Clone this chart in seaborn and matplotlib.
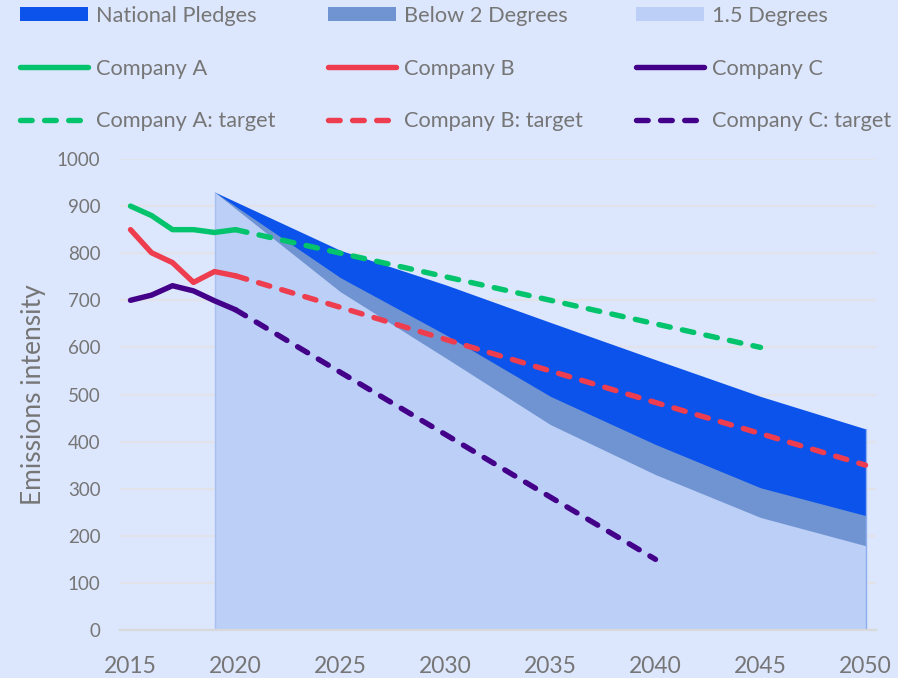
import matplotlib
matplotlib.use("Agg")
import matplotlib.pyplot as plt
from matplotlib.patches import Patch
from matplotlib.lines import Line2D
import seaborn as sns
import pandas as pd

# ---- data -------------------------------------------------------------
hist_years = [2015, 2016, 2017, 2018, 2019, 2020]
company_a = [900, 880, 850, 850, 844, 850]
company_b = [850, 801, 780, 738, 761, 752]
company_c = [700, 711, 731, 720, 699, 680]

target_years_a = [2020, 2025, 2030, 2035, 2040, 2045]
target_a = [850, 800, 750, 700, 650, 600]
target_years_b = [2020, 2025, 2030, 2035, 2040, 2045, 2050]
target_b = [752, 685, 617, 550, 483, 417, 350]
target_years_c = [2020, 2025, 2030, 2035, 2040]
target_c = [680, 547, 415, 282, 150]

scenario_years = [2019, 2025, 2030, 2035, 2040, 2045, 2050]
national_pledges = [930, 806, 733, 653, 574, 496, 427]
below_2_degrees = [930, 748, 627, 496, 394, 302, 243]
one_point_five = [930, 718, 578, 436, 330, 239, 179]

year_labels = [2015, 2020, 2025, 2030, 2035, 2040, 2045, 2050]
y_ticks = [0, 100, 200, 300, 400, 500, 600, 700, 800, 900, 1000]

# ---- style ------------------------------------------------------------
BG = "#DCE6FC"
GRID = "#E2E3E8"
TEXT = "#767676"
C_NP = "#0B53EA"
C_B2 = "#7094D2"
C_15 = "#BBCFF7"
C_A = "#03C46C"
C_B = "#EE3D4E"
C_C = "#430089"
LW = 3.9
DASH = (0, (2.15, 2.3))

sns.set_theme(style="white")
plt.rcParams["font.family"] = ["Lato", "DejaVu Sans"]

fig = plt.figure(figsize=(8.98, 6.78), dpi=100, facecolor=BG)
ax = fig.add_axes([120 / 898, 48 / 678, 756 / 898, 471 / 678])
ax.set_facecolor(BG)

# scenario pathways drawn back to front
scen = pd.DataFrame({"year": scenario_years, "np": national_pledges,
                     "b2": below_2_degrees, "p15": one_point_five})
ax.fill_between(scen["year"], 0, scen["np"], color=C_NP, lw=0, zorder=2)
ax.fill_between(scen["year"], 0, scen["b2"], color=C_B2, lw=0, zorder=3)
ax.fill_between(scen["year"], 0, scen["p15"], color=C_15, lw=0, zorder=4)
ax.plot([scen["year"].iloc[0]] * 2, [0, scen["p15"].iloc[0]],
        color="#A9C0F0", lw=1, zorder=4)
ax.plot([scen["year"].iloc[-1]] * 2, [0, scen["np"].iloc[-1]],
        color="#8FAEEF", lw=1, zorder=4)

hist = pd.DataFrame({"year": hist_years, "A": company_a, "B": company_b, "C": company_c})
targets = [
    (target_years_a, target_a, C_A),
    (target_years_b, target_b, C_B),
    (target_years_c, target_c, C_C),
]

for col, color in (("A", C_A), ("B", C_B), ("C", C_C)):
    sns.lineplot(data=hist, x="year", y=col, color=color, linewidth=LW,
                 solid_capstyle="round", solid_joinstyle="round", ax=ax, zorder=6)

for yrs, vals, color in targets:
    sns.lineplot(x=yrs, y=vals, color=color, linewidth=LW, linestyle=DASH,
                 dash_capstyle="round", ax=ax, zorder=6)

# ---- axes ------------------------------------------------------------
ax.set_xlim(2014.5, 2050.5)
ax.set_ylim(0, 1000)
ax.set_yticks(y_ticks)
ax.set_xticks(year_labels)
ax.set_xticklabels([str(y) for y in year_labels])
ax.set_xticks([y - 0.5 for y in range(2015, 2052)], minor=True)
ax.yaxis.grid(True, color=GRID, lw=1.5, zorder=1)
ax.set_axisbelow(True)
for s in ("top", "right", "left"):
    ax.spines[s].set_visible(False)
ax.spines["bottom"].set_color("#D9D9D9")
ax.spines["bottom"].set_linewidth(1.5)
ax.spines["bottom"].set_zorder(7)
ax.tick_params(axis="y", length=0, pad=14, labelsize=13.5, labelcolor=TEXT)
ax.tick_params(axis="x", which="major", length=0, pad=19, labelsize=16.5, labelcolor=TEXT)
ax.tick_params(axis="x", which="minor", length=8, width=1.5, color="#D9D9D9", direction="out")
ax.set_xlabel("")
ax.set_ylabel("Emissions intensity", fontsize=19, color=TEXT)
ax.yaxis.set_label_coords((46 - 120) / 756, 0.5)

# ---- legend (three columns) -----------------------------------------
def line_handle(color, dashed=False):
    if dashed:
        return Line2D([], [], color=color, lw=LW, linestyle=DASH, dash_capstyle="round")
    return Line2D([], [], color=color, lw=LW, solid_capstyle="round")

columns = [
    ([Patch(color=C_NP, lw=0), line_handle(C_A), line_handle(C_A, True)],
     ["National Pledges", "Company A", "Company A: target"]),
    ([Patch(color=C_B2, lw=0), line_handle(C_B), line_handle(C_B, True)],
     ["Below 2 Degrees", "Company B", "Company B: target"]),
    ([Patch(color=C_15, lw=0), line_handle(C_C), line_handle(C_C, True)],
     ["1.5 Degrees", "Company C", "Company C: target"]),
]
col_x = [20, 328, 636]
for (handles, labels), x in zip(columns, col_x):
    leg = fig.legend(handles, labels, loc="center left",
                     bbox_to_anchor=(x / 898, 1 - 68.5 / 678),
                     frameon=False, fontsize=15.7, handlelength=3.12,
                     handleheight=0.64, handletextpad=0.37, labelspacing=1.5,
                     borderpad=0, borderaxespad=0)
    for t in leg.get_texts():
        t.set_color(TEXT)

fig.savefig("out.png", dpi=100, facecolor=BG)
